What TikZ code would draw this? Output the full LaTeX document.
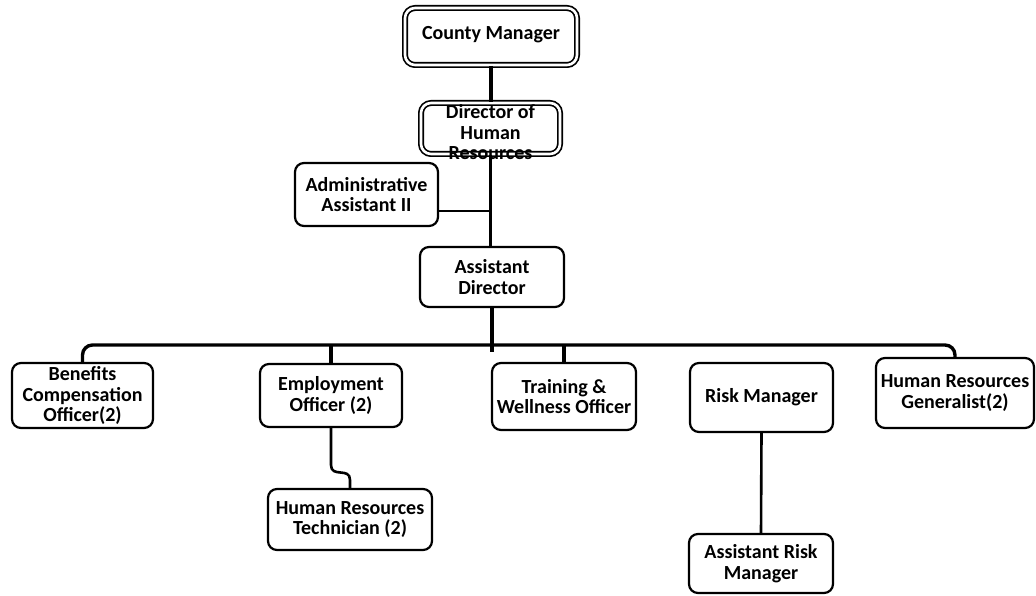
\documentclass[tikz,border=0pt]{standalone}
\usepackage{fontspec}
\setmainfont{Carlito}
\begin{document}
\begin{tikzpicture}[x=1pt,y=-1pt,
  boxtext/.style={align=center, inner sep=0pt, font=\fontsize{20}{20.5}\selectfont\bfseries},
  box/.style={boxtext, draw=black, line width=2.2pt, rounded corners=9pt, fill=white},
  dbox/.style={box, line width=1.7pt, double, double distance=2.6pt, rounded corners=10pt},
  link/.style={draw=black, line width=3.4pt},
  thinlink/.style={draw=black, line width=2.6pt}
]
\useasboundingbox (0,0) rectangle (1036,596);

% top of the chart
\node[dbox, minimum width=172pt, minimum height=57pt] (cm) at (491,36.5) {\raisebox{7pt}{County Manager}};
\node[dbox, minimum width=139pt, minimum height=51pt] (dir) at (490.5,128.5) {};
\node[boxtext] (dirtext) at ([yshift=-4pt]dir.center) {Director of\\Human\\Resources};
\node[box, minimum width=143pt, minimum height=63pt] (admin) at (366.5,194.5) {Administrative\\Assistant II};
\node[box, minimum width=144pt, minimum height=60pt] (ad) at (492,277) {Assistant\\Director};

% divisions
\node[box, minimum width=141pt, minimum height=65pt] (ben) at (82.5,395.5) {Benefits\\Compensation\\Officer(2)};
\node[box, minimum width=142pt, minimum height=63pt] (emp) at (331,395.5) {Employment\\Officer (2)};
\node[box, minimum width=144pt, minimum height=67pt] (trn) at (564,396.5) {Training \&\\Wellness Officer};
\node[box, minimum width=143pt, minimum height=69pt] (risk) at (761.5,397.5) {Risk Manager};
\node[box, minimum width=158pt, minimum height=70pt] (gen) at (955,393) {Human Resources\\Generalist(2)};

% third level
\node[box, minimum width=164pt, minimum height=61pt] (hrt) at (350,519.5) {Human Resources\\Technician (2)};
\node[box, minimum width=144pt, minimum height=59pt] (arm) at (761,563.5) {Assistant Risk\\Manager};

\coordinate (adminjoin) at (491,211);
\coordinate (bus) at (491,345);

% connectors
\draw[link] (cm.south) -- (cm.south |- dir.north);
\draw[link] (dir.south) -- (dir.south |- ad.north);
\draw[thinlink] ([yshift=-16.5pt]admin.east) -- (adminjoin);
\draw[link] (ad.south) -- ([yshift=-7pt]ad.south |- bus);
\draw[link, rounded corners=10pt] (ben.north) -- (ben.north |- bus) -- (gen.north |- bus) -- (gen.north);
\draw[link] (emp.north) -- (emp.north |- bus);
\draw[link] (trn.north) -- (trn.north |- bus);
\draw[thinlink] (risk.south) -- (arm.north);
\draw[thinlink] (emp.south) -- ++(0,37) .. controls +(0,13) and +(0,-13) .. ([yshift=8pt]hrt.north) -- (hrt.north);
\end{tikzpicture}
\end{document}
